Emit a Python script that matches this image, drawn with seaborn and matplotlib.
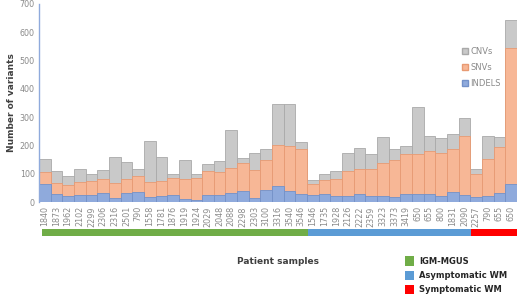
import numpy as np
import pandas as pd
import matplotlib
matplotlib.use("Agg")
import matplotlib.pyplot as plt
from matplotlib.patches import Patch
import seaborn as sns

samples = ["1840", "1873", "1962", "2102", "2299", "2306", "2316", "2501", "790", "1558",
           "1781", "1876", "1919", "1924", "2029", "2048", "2088", "2298", "2303", "3100",
           "3316", "3540", "3546", "1546", "1735", "1928", "2126", "2222", "2359", "3323",
           "3373", "3419", "650", "655", "800", "1831", "2090", "2257", "790", "655", "650"]

indels = [65, 30, 21, 26, 26, 32, 13, 32, 34, 18, 21, 24, 12, 8, 24, 24, 33, 38, 14, 44,
          57, 38, 30, 24, 30, 21, 21, 28, 21, 21, 19, 30, 27, 28, 21, 35, 25, 18, 22, 32, 63]
snvs = [41, 37, 40, 45, 48, 51, 54, 51, 57, 53, 53, 61, 71, 77, 85, 82, 89, 101, 100, 106,
        146, 161, 159, 41, 47, 59, 89, 90, 97, 117, 131, 139, 144, 153, 152, 153, 210, 80, 130, 163, 480]
cnvs = [47, 43, 31, 47, 26, 30, 91, 60, 27, 144, 85, 15, 67, 14, 27, 39, 134, 18, 61, 36,
        145, 146, 22, 12, 23, 29, 65, 72, 51, 91, 36, 28, 165, 51, 54, 53, 61, 20, 83, 36, 100]

groups = ["IGM-MGUS"] * 23 + ["Asymptomatic WM"] * 14 + ["Symptomatic WM"] * 4
group_colors = {"IGM-MGUS": "#70ad47", "Asymptomatic WM": "#5b9bd5", "Symptomatic WM": "#ff0000"}

df = pd.DataFrame({"pos": np.arange(len(samples)), "indels": indels, "snvs": snvs, "cnvs": cnvs,
                   "group": groups})
df["snv_top"] = df["indels"] + df["snvs"]
df["total"] = df["snv_top"] + df["cnvs"]
df["strip"] = 1

sns.set_style("white")
fig = plt.figure(figsize=(5.2, 2.98), dpi=100)
ax = fig.add_axes([0.075, 0.322, 0.919, 0.665])

# stacked bars by drawing cumulative heights on top of each other
sns.barplot(data=df, x="pos", y="total", color="#c9c9c9", edgecolor="#a9a9a9",
            linewidth=0.6, width=1.0, saturation=1, ax=ax)
sns.barplot(data=df, x="pos", y="snv_top", color="#f7b796", edgecolor="#e89a73",
            linewidth=0.6, width=1.0, saturation=1, ax=ax)
sns.barplot(data=df, x="pos", y="indels", color="#8faadc", edgecolor="#7391c9",
            linewidth=0.6, width=1.0, saturation=1, ax=ax)

ax.set_ylim(0, 700)
ax.set_xlim(-0.5, len(samples) - 0.5)
ax.set_yticks(range(0, 701, 100))
ax.set_xticks(range(len(samples)))
ax.set_xticklabels(samples, rotation=90)
ax.tick_params(axis="both", labelsize=5.8, colors="#8a8a8a", length=0, pad=3)
ax.set_xlabel("")
ax.set_ylabel("Number of variants", fontsize=6.5, fontweight="bold", color="#404040", labelpad=3)
for s in ["top", "right", "bottom"]:
    ax.spines[s].set_visible(False)
ax.spines["left"].set_color("#8faadc")
ax.spines["left"].set_linewidth(1)

handles = [Patch(facecolor="#c9c9c9", edgecolor="#a9a9a9", label="CNVs"),
           Patch(facecolor="#f7b796", edgecolor="#e89a73", label="SNVs"),
           Patch(facecolor="#8faadc", edgecolor="#7391c9", label="INDELS")]
leg = ax.legend(handles=handles, loc="upper left", bbox_to_anchor=(0.87, 0.82), frameon=False,
                fontsize=6, handlelength=0.7, handleheight=0.7, handletextpad=0.3, labelspacing=0.85)
for t in leg.get_texts():
    t.set_color("#8a8a8a")

# group strip under the axis
sax = fig.add_axes([0.081, 0.208, 0.913, 0.024])
sns.barplot(data=df, x="pos", y="strip", hue="group", palette=group_colors, width=1.0,
            saturation=1, linewidth=0, dodge=False, legend=False, ax=sax)
sax.set_xlim(-0.5, len(samples) - 0.5)
sax.set_ylim(0, 1)
sax.axis("off")

fig.text(0.535, 0.115, "Patient samples", ha="center", fontsize=6.5, fontweight="bold", color="#404040")

ghandles = [Patch(facecolor=c, edgecolor="none", label=g) for g, c in group_colors.items()]
fig.legend(handles=ghandles, loc="upper left", bbox_to_anchor=(0.765, 0.165), frameon=False,
           fontsize=6, handlelength=1.1, handleheight=1.4, handletextpad=0.6, labelspacing=0.55,
           prop={"weight": "bold", "size": 6})

fig.savefig("out.png", dpi=100)
